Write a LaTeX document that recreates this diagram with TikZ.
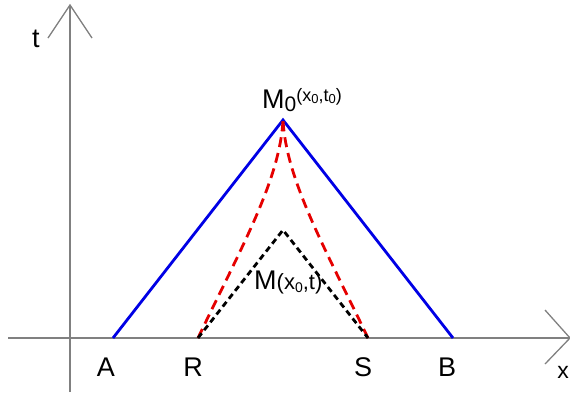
\documentclass[tikz,border=0pt]{standalone}
\usepackage{fontspec}
\setmainfont{Liberation Sans}
\begin{document}
\begin{tikzpicture}[x=1pt,y=-1pt,
  axis/.style={draw=black!50,line width=2pt},
  blueline/.style={draw=blue!90!black,line width=2.8pt},
  reddash/.style={draw=red!90!black,line width=2.8pt,dash pattern=on 10pt off 6pt},
  blackdash/.style={draw=black,line width=2.8pt,dash pattern=on 6pt off 4pt},
  lbl/.style={inner sep=0pt,font=\fontsize{27}{27}\selectfont}]
\useasboundingbox (0,0) rectangle (570,392);
% axes
\coordinate (xl) at (8,338);
\coordinate (xr) at (570,338);
\coordinate (xa1) at (545,310);
\coordinate (xa2) at (545,364);
\coordinate (tb) at (70,392);
\coordinate (tt) at (70,5);
\coordinate (ta1) at (48,38);
\coordinate (ta2) at (92,38);
\draw[axis] (xl) -- (xr);
\draw[axis,line width=1.3pt] (xa1) -- (xr) -- (xa2);
\draw[axis,line width=1.3pt] (tb) -- (tt);
\draw[axis,line width=1.3pt] (ta1) -- (tt) -- (ta2);
% points
\coordinate (A) at (113,338);
\coordinate (R) at (198,338);
\coordinate (S) at (368,338);
\coordinate (B) at (453,338);
\coordinate (M0) at (283,120);
\coordinate (M) at (283,230);
% lines
\draw[blueline] (A) -- (M0) -- (B);
\draw[reddash] (R) .. controls (240,250) and (280,180) .. (M0);
\draw[reddash] (S) .. controls (326,250) and (286,180) .. (M0);
\draw[blackdash] (R) -- (M) -- (S);
% labels
\node[lbl] (lA) at (106,367) {A};
\node[lbl] (lR) at (193,367) {R};
\node[lbl] (lS) at (363,367) {S};
\node[lbl] (lB) at (447,367) {B};
\node[lbl] (lx) at (563,372) {\fontsize{23}{23}\selectfont x};
\node[lbl] (lt) at (36,39) {t};
\node[lbl,anchor=base west] (lM0) at (262,108) {M\raisebox{-3pt}{\fontsize{21}{21}\selectfont 0}\raisebox{7pt}{\fontsize{18}{18}\selectfont (x\raisebox{-2pt}{\fontsize{13}{13}\selectfont 0},t\raisebox{-2pt}{\fontsize{13}{13}\selectfont 0})}};
\node[lbl,anchor=base west] (lM) at (254,289) {M{\fontsize{22}{22}\selectfont (x\raisebox{-3pt}{\fontsize{14}{14}\selectfont 0},t)}};
\end{tikzpicture}
\end{document}
